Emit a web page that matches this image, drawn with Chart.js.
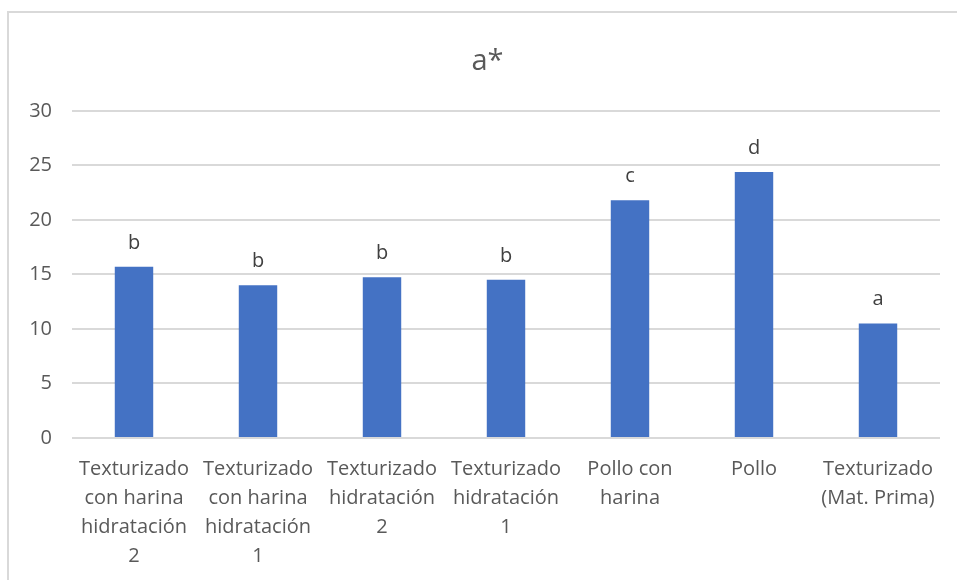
<!DOCTYPE html>
<html>
<head>
<meta charset="utf-8">
<script src="https://cdn.jsdelivr.net/npm/chart.js@4/dist/chart.umd.min.js"></script>
<style>
  html, body { margin: 0; padding: 0; background: #ffffff; overflow: hidden; }
  #wrap { position: relative; width: 957px; height: 580px; }
</style>
</head>
<body>
<div id="wrap"><canvas id="chart" width="957" height="580"></canvas></div>
<script>
// Muestras analizadas (etiquetas del eje X, partidas en líneas)
const categories = [
  ['Texturizado', 'con harina', 'hidratación', '2'],
  ['Texturizado', 'con harina', 'hidratación', '1'],
  ['Texturizado', 'hidratación', '2'],
  ['Texturizado', 'hidratación', '1'],
  ['Pollo con', 'harina'],
  ['Pollo'],
  ['Texturizado', '(Mat. Prima)']
];
// Valor medio de a* por muestra
const aStarValues = [15.7, 14.0, 14.75, 14.5, 21.8, 24.4, 10.5];
// Letras de agrupación estadística sobre cada barra
const groupLetters = ['b', 'b', 'b', 'b', 'c', 'd', 'a'];
// Marcas del eje Y
const yTicks = [0, 5, 10, 15, 20, 25, 30];

const FONT = "'Open Sans', 'Noto Sans', sans-serif";
const TEXT = '#595959';
const GRID = '#d9d9d9';

// Marco gris del área del gráfico
const framePlugin = {
  id: 'frame',
  beforeDraw(chart) {
    const ctx = chart.ctx;
    ctx.save();
    ctx.fillStyle = '#ffffff';
    ctx.fillRect(0, 0, chart.width, chart.height);
    ctx.strokeStyle = GRID;
    ctx.lineWidth = 2;
    ctx.strokeRect(8, 12, chart.width + 20, chart.height + 20);
    ctx.restore();
  }
};

// El título se centra dentro del marco (que empieza en x = 8 y sigue a la derecha)
const titleCenterPlugin = {
  id: 'titleCenter',
  afterLayout(chart) {
    const tb = chart.titleBlock;
    if (tb) {
      tb.left = 18;
      tb.right = chart.width;
    }
  }
};

// Letras encima de las barras
const lettersPlugin = {
  id: 'letters',
  afterDatasetsDraw(chart) {
    const ctx = chart.ctx;
    const meta = chart.getDatasetMeta(0);
    ctx.save();
    ctx.font = '20px ' + FONT;
    ctx.fillStyle = '#404040';
    ctx.textAlign = 'center';
    ctx.textBaseline = 'alphabetic';
    meta.data.forEach((bar, i) => {
      ctx.fillText(groupLetters[i], bar.x, bar.y - 18);
    });
    ctx.restore();
  }
};

new Chart(document.getElementById('chart'), {
  type: 'bar',
  data: {
    labels: categories,
    datasets: [{
      label: 'a*',
      data: aStarValues,
      backgroundColor: '#4472C4',
      borderWidth: 0,
      categoryPercentage: 1,
      barPercentage: 0.31
    }]
  },
  options: {
    responsive: false,
    animation: false,
    devicePixelRatio: 1,
    layout: { padding: { left: 0, right: 17, top: 0, bottom: 0 } },
    plugins: {
      legend: { display: false },
      tooltip: { enabled: false },
      title: {
        display: true,
        text: 'a*',
        color: TEXT,
        font: { family: FONT, size: 29, weight: 'normal' },
        padding: { top: 44, bottom: 32 }
      }
    },
    scales: {
      x: {
        grid: { display: false, drawTicks: false },
        border: { display: false },
        ticks: {
          color: TEXT,
          font: { family: FONT, size: 20, lineHeight: 1.45 },
          padding: 17,
          maxRotation: 0,
          autoSkip: false
        },
        afterFit(scale) { scale.height = 142; }
      },
      y: {
        min: 0,
        max: 30,
        afterBuildTicks(scale) { scale.ticks = yTicks.map(v => ({ value: v })); },
        grid: { color: GRID, lineWidth: 2, drawTicks: false },
        border: { display: false },
        ticks: {
          color: TEXT,
          font: { family: FONT, size: 20 },
          padding: 20
        },
        afterFit(scale) { scale.width = 72; }
      }
    }
  },
  plugins: [framePlugin, titleCenterPlugin, lettersPlugin]
});
</script>
</body>
</html>
